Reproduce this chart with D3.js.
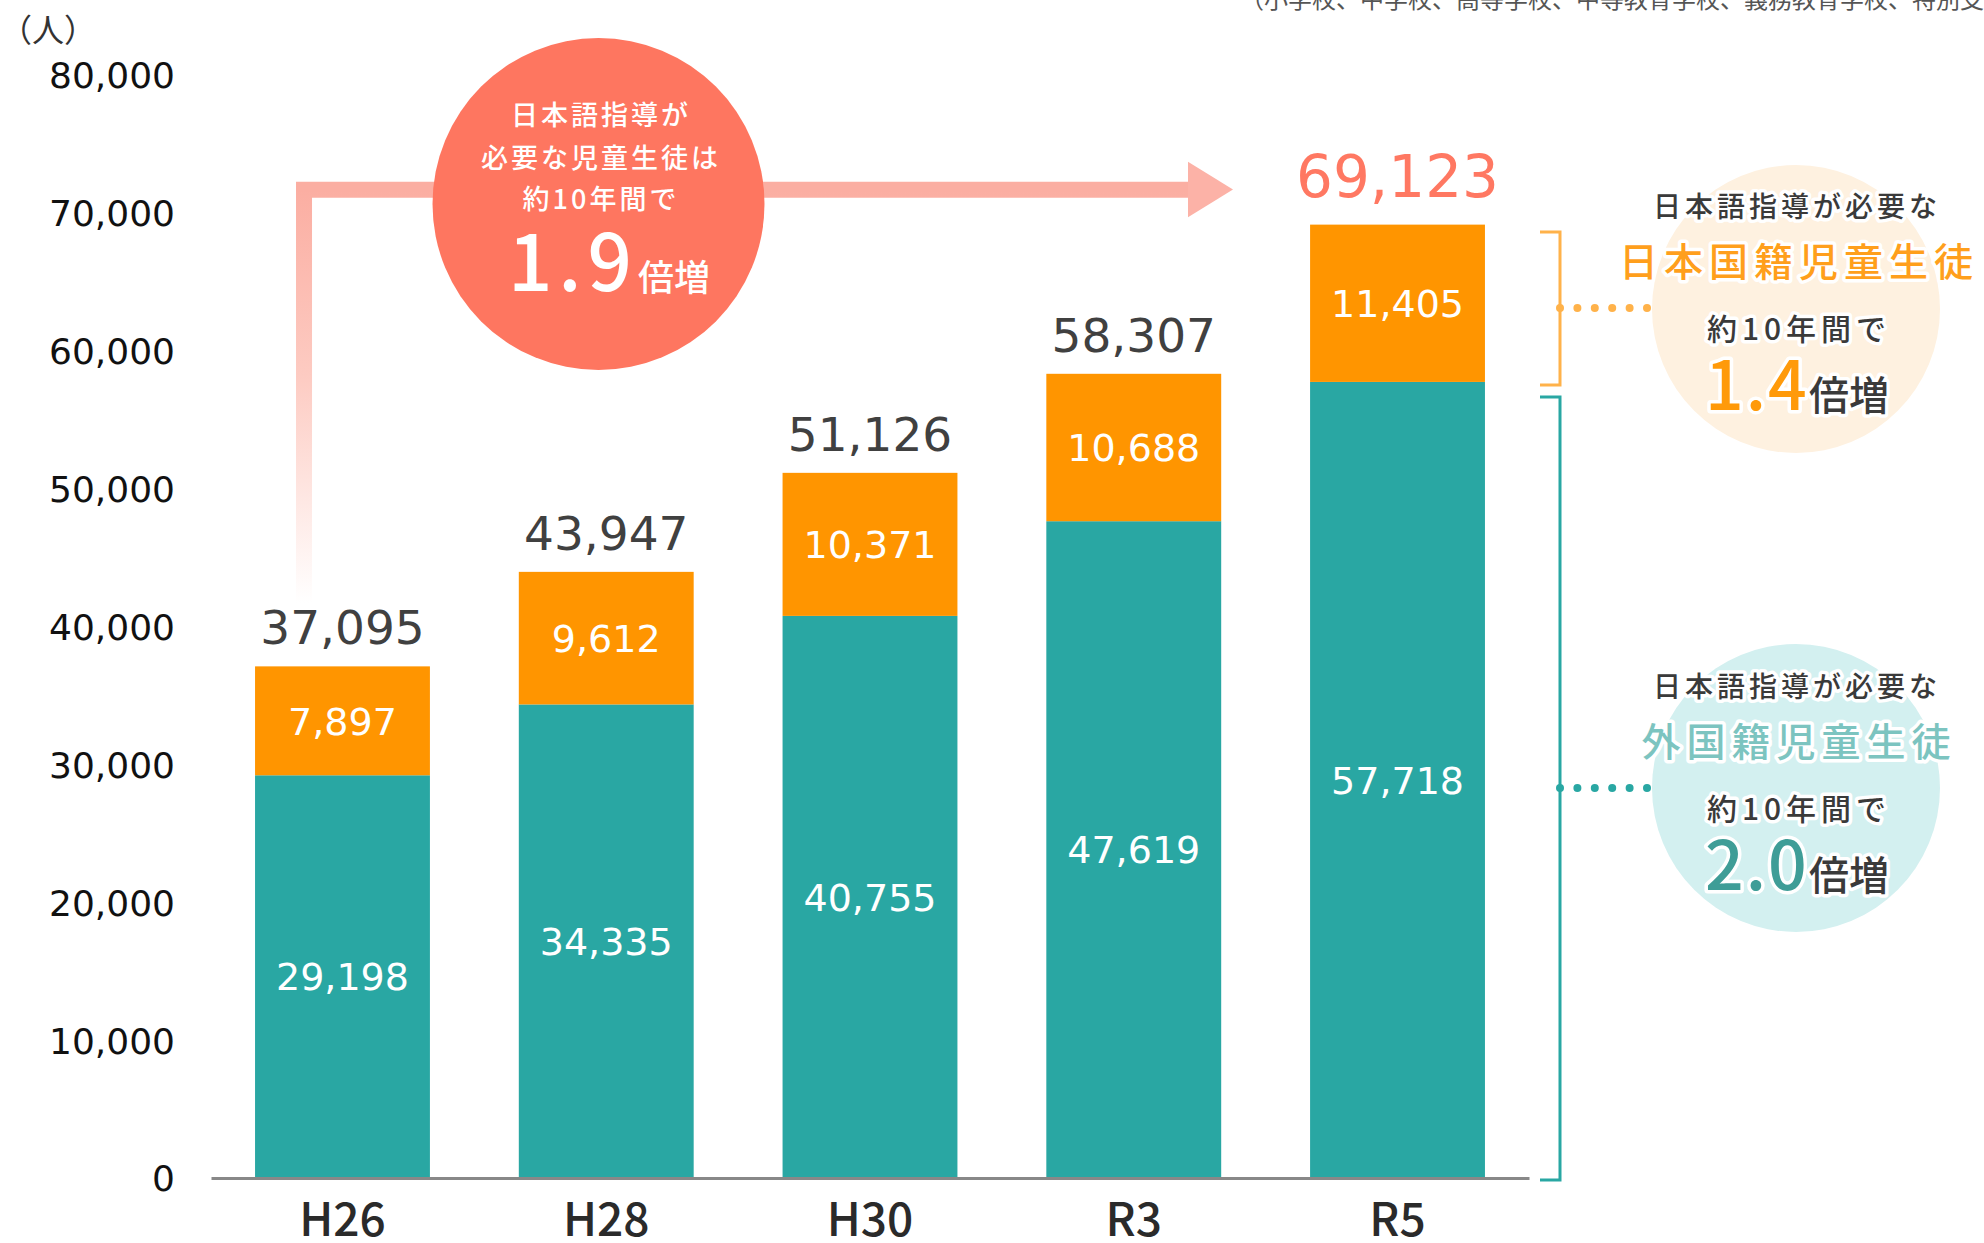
<!DOCTYPE html>
<html><head><meta charset="utf-8">
<script src="https://cdn.jsdelivr.net/npm/d3@7"></script>
<style>
html,body{margin:0;padding:0;background:#fff;overflow:hidden;}
svg{display:block;}
</style></head>
<body>
<svg id="chart" width="1984" height="1243"></svg>
<script>
const categories = ["H26","H28","H30","R3","R5"];
const foreignStudents = [29198,34335,40755,47619,57718];
const japaneseStudents = [7897,9612,10371,10688,11405];
const totals = [37095,43947,51126,58307,69123];
const yTicks = [0,10000,20000,30000,40000,50000,60000,70000,80000];
const unitLabel = "（人）";
const schoolNote = "（小学校、中学校、高等学校、中等教育学校、義務教育学校、特別支援学校）";

const svg = d3.select("#chart");
const JP = "'Noto Sans CJK JP','Noto Sans',sans-serif";
const NUM = "'DejaVu Sans',sans-serif";

const x = d3.scaleBand().domain(categories).range([211,1529]).paddingInner(0.337).paddingOuter(0.167);
const y = d3.scaleLinear().domain([0,80000]).range([1178,74.6]);

// top note (clipped as in the reference)
svg.append("text").attr("x",1240).attr("y",8).attr("font-family",JP).attr("font-size",24)
  .attr("fill","#555").text(schoolNote);
svg.append("text").attr("x",0).attr("y",28).attr("dominant-baseline","central")
  .attr("font-family",JP).attr("font-size",32).attr("fill","#333").text(unitLabel);

// y axis tick labels
const yAxis = d3.axisLeft(y).tickValues(yTicks).tickFormat(d3.format(",")).tickSize(0).tickPadding(0);
const gy = svg.append("g").attr("transform","translate(175,0)").call(yAxis);
gy.select(".domain").remove();
gy.selectAll("text").attr("font-family",NUM).attr("font-size",36).attr("fill","#111")
  .attr("dy","0.36em");

// arrow
const defs = svg.append("defs");
const grad = defs.append("linearGradient").attr("id","arrowGrad").attr("gradientUnits","userSpaceOnUse")
  .attr("x1",0).attr("x2",0).attr("y1",603).attr("y2",190);
grad.append("stop").attr("offset",0).attr("stop-color","#fff");
grad.append("stop").attr("offset",0.55).attr("stop-color","#fdcbc2");
grad.append("stop").attr("offset",1).attr("stop-color","#fbaea2");
const ax = x("H26") + x.bandwidth()*0.28;
svg.append("path").attr("d",`M${ax},603 V189.7 H1190`).attr("fill","none")
  .attr("stroke","url(#arrowGrad)").attr("stroke-width",16).attr("stroke-linejoin","miter");
svg.append("path").attr("d","M1188,161.7 L1233,189.5 L1188,217.3 Z").attr("fill","#fcb2a7");

// big coral circle
svg.append("circle").attr("cx",598.5).attr("cy",204).attr("r",166).attr("fill","#fe7660");
const ct = [["日本語指導が",113],["必要な児童生徒は",156],["約10年間で",197]];
ct.forEach(([t,cy])=>{
  svg.append("text").attr("x",601).attr("y",cy).attr("text-anchor","middle").attr("dominant-baseline","central")
    .attr("font-family",JP).attr("font-size",27).attr("font-weight",500).attr("letter-spacing",3)
    .attr("fill","#fff").text(t);
});
const big = svg.append("text").attr("x",609).attr("y",291).attr("text-anchor","middle")
  .attr("font-family",JP).attr("fill","#fff").attr("font-weight",500);
big.append("tspan").attr("font-size",78).attr("letter-spacing",6).text("1.9");
big.append("tspan").attr("font-size",36).text("倍増");

// bars
const g = svg.append("g");
categories.forEach((c,i)=>{
  const f = foreignStudents[i], j = japaneseStudents[i];
  g.append("rect").attr("x",x(c)).attr("width",x.bandwidth()).attr("y",y(f)).attr("height",y(0)-y(f)).attr("fill","#29a7a3");
  g.append("rect").attr("x",x(c)).attr("width",x.bandwidth()).attr("y",y(f+j)).attr("height",y(f)-y(f+j)).attr("fill","#ff9500");
  const cx = x(c)+x.bandwidth()/2;
  g.append("text").attr("x",cx).attr("y",(y(0)+y(f))/2).attr("dy","0.36em").attr("text-anchor","middle")
    .attr("font-family",NUM).attr("font-size",38).attr("fill","#fff").text(d3.format(",")(f));
  g.append("text").attr("x",cx).attr("y",(y(f)+y(f+j))/2).attr("dy","0.36em").attr("text-anchor","middle")
    .attr("font-family",NUM).attr("font-size",38).attr("fill","#fff").text(d3.format(",")(j));
  const last = i===categories.length-1;
  g.append("text").attr("x",cx).attr("y",y(totals[i]) - (last?28:22)).attr("text-anchor","middle")
    .attr("font-family",NUM).attr("font-size",last?58:47).attr("fill",last?"#ff7862":"#404040")
    .text(d3.format(",")(totals[i]));
});

// x axis
const xAxis = d3.axisBottom(x).tickSize(0).tickPadding(0);
const gx = svg.append("g").attr("transform","translate(0,1178)").call(xAxis);
gx.select(".domain").attr("stroke","#888").attr("stroke-width",3);
gx.selectAll("text").attr("font-family",JP).attr("font-size",46).attr("font-weight",500).attr("fill","#2a2a2a")
  .attr("y",58).attr("dy",0);

// right side annotations
svg.append("circle").attr("cx",1796).attr("cy",309).attr("r",144).attr("fill","#fef1e0");
svg.append("circle").attr("cx",1796).attr("cy",788).attr("r",144).attr("fill","#d3f0f0");

svg.append("path").attr("d","M1540,232 H1560 V385 H1540").attr("fill","none").attr("stroke","#ffb24a").attr("stroke-width",3);
svg.append("path").attr("d","M1540,397 H1560 V1180 H1540").attr("fill","none").attr("stroke","#29a7a3").attr("stroke-width",3);
d3.range(6).forEach(k=>{
  svg.append("circle").attr("cx",1560+k*17.4).attr("cy",308).attr("r",4).attr("fill","#ffb24a");
  svg.append("circle").attr("cx",1560+k*17.4).attr("cy",788).attr("r",4).attr("fill","#29a7a3");
});

function halo(sel){ return sel.attr("stroke","#fff").attr("stroke-width",7).attr("stroke-linejoin","round").attr("paint-order","stroke"); }
function block(yTop, title, titleColor, mult, multColor){
  halo(svg.append("text").attr("x",1797).attr("y",yTop).attr("text-anchor","middle").attr("dominant-baseline","central")
    .attr("font-family",JP).attr("font-size",28).attr("font-weight",500).attr("letter-spacing",4).attr("fill","#3a3a3a")
    .text("日本語指導が必要な"));
  halo(svg.append("text").attr("x",1799).attr("y",yTop+54).attr("text-anchor","middle").attr("dominant-baseline","central")
    .attr("font-family",JP).attr("font-size",39).attr("font-weight",500).attr("letter-spacing",6).attr("fill",titleColor)
    .text(title));
  halo(svg.append("text").attr("x",1799).attr("y",yTop+122).attr("text-anchor","middle").attr("dominant-baseline","central")
    .attr("font-family",JP).attr("font-size",30).attr("font-weight",500).attr("letter-spacing",5).attr("fill","#3a3a3a")
    .text("約10年間で"));
  const t = halo(svg.append("text").attr("x",1797).attr("y",yTop+205).attr("text-anchor","middle")
    .attr("font-family",JP).attr("font-weight",500));
  t.append("tspan").attr("font-size",68).attr("fill",multColor).attr("letter-spacing",2).text(mult);
  t.append("tspan").attr("font-size",40).attr("fill","#3a3a3a").text("倍増");
}
block(205,"日本国籍児童生徒","#ff9f1c","1.4","#ff9a0a");
block(685,"外国籍児童生徒","#7cc4c0","2.0","#3f9d97");
</script>
</body></html>
